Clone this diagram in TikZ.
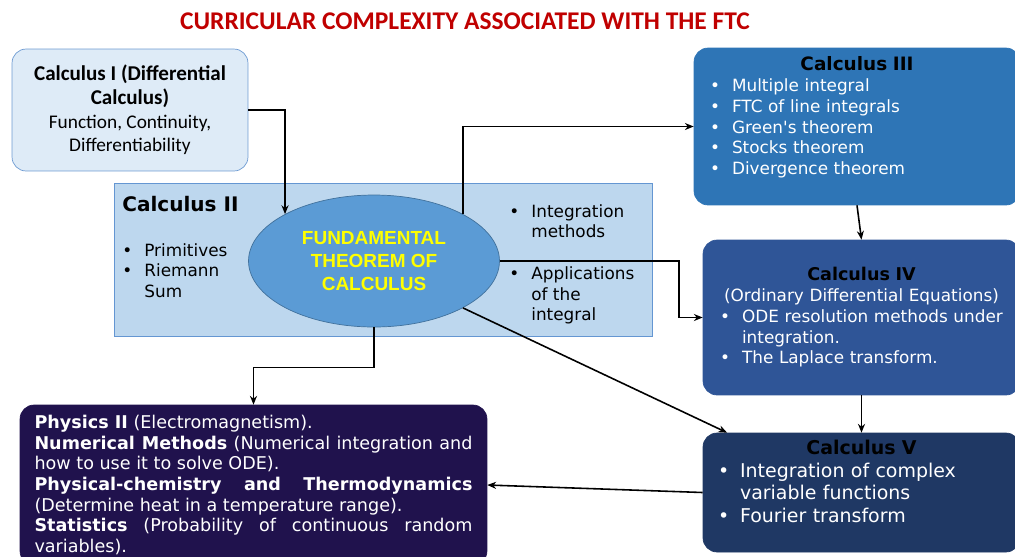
\documentclass[tikz,border=0pt]{standalone}
\usepackage{fontspec}
\setmainfont{DejaVu Sans}
\newfontfamily\calibrifont{Carlito}
\newfontfamily\arialfont{Liberation Sans}
\usetikzlibrary{shapes.geometric, arrows.meta, positioning}
\definecolor{titlered}{RGB}{192, 0, 0}
\definecolor{calcIfill}{RGB}{222, 235, 247}
\definecolor{calcIline}{RGB}{110, 155, 210}
\definecolor{calcIIfill}{RGB}{189, 215, 238}
\definecolor{calcIIline}{RGB}{100, 150, 210}
\definecolor{fundfill}{RGB}{91, 155, 213}
\definecolor{fundline}{RGB}{65, 113, 156}
\definecolor{fundtext}{RGB}{255, 255, 0}
\definecolor{calcIIIfill}{RGB}{46, 117, 182}
\definecolor{calcIVfill}{RGB}{47, 85, 151}
\definecolor{calcVfill}{RGB}{31, 56, 100}
\definecolor{physfill}{RGB}{32, 18, 77}
\newcommand{\bul}{\makebox[0.44cm][l]{\textbullet}}
\newcommand{\nobul}{\makebox[0.44cm]{}}
\newcommand{\extradepth}[1]{\rule[-#1]{0pt}{0pt}}

\begin{document}
\begin{tikzpicture}[
    x=0.02cm, y=-0.02cm,
    box/.style={rounded corners=8pt, inner sep=0pt},
    listtext/.style={align=left, inner sep=0pt, font=\fontsize{9.6}{11.8}\selectfont},
    arrow/.style={-{Stealth[length=5pt, width=4pt]}, line width=0.9pt, black}
]
    \useasboundingbox (0,0) rectangle (1015,556);

    % Title
    \node[font=\calibrifont\bfseries\fontsize{14.5}{17}\selectfont, text=titlered] (title) at (465,21) {CURRICULAR COMPLEXITY ASSOCIATED WITH THE FTC};

    % Nodes - left column
    \node[box, fill=calcIfill, draw=calcIline, minimum width=4.72cm, minimum height=2.44cm, align=center, font=\calibrifont\fontsize{11}{13.4}\selectfont] (calcI) at (130,110) {\textbf{\fontsize{12}{14.5}\selectfont Calculus I (Differential}\\\textbf{\fontsize{12}{14.5}\selectfont Calculus)}\\Function, Continuity,\\Differentiability};

    \node[draw=calcIIline, fill=calcIIfill, minimum width=10.76cm, minimum height=3.06cm, inner sep=0pt] (calcII) at (383,259.5) {};
    \node[anchor=base west, inner sep=0pt, font=\bfseries\fontsize{11.4}{13}\selectfont] (calcIItitle) at (122,211) {Calculus II};
    \node[listtext, anchor=north west] (calcIIleft) at (122,243) {\bul Primitives\\\bul Riemann\\\nobul Sum};
    \node[listtext, anchor=north west] (calcIIright) at (509,204) {\bul Integration\\\nobul methods\\[11.8pt]\bul Applications\\\nobul of the\\\nobul integral};

    \node[ellipse, draw=fundline, fill=fundfill, minimum width=5.02cm, minimum height=2.64cm, inner sep=0pt, align=center, text=fundtext, font=\arialfont\bfseries\fontsize{10.8}{13.1}\selectfont] (fund) at (374,261) {FUNDAMENTAL\\THEOREM OF\\CALCULUS};

    \node[box, fill=physfill, draw=physfill, minimum width=9.34cm, minimum height=3.2cm, text width=8.76cm, inner xsep=0.29cm, align=justify, text=white, font=\fontsize{10}{11.8}\selectfont] (physics) at (253.5,485) {\tolerance=10000 \textbf{Physics II} (Electromagnetism).\par
        \textbf{Numerical Methods} (Numerical integration and\linebreak how to use it to solve ODE).\par
        \textbf{Physical-chemistry and Thermodynamics}\linebreak (Determine heat in a temperature range).\par
        \textbf{Statistics} (Probability of continuous random\linebreak variables).};

    % Nodes - right column
    \node[box, fill=calcIIIfill, draw=calcIIIfill, minimum width=6.52cm, minimum height=3.14cm, text width=5.88cm, inner xsep=0.32cm, align=left, text=white, font=\fontsize{9.6}{11.8}\selectfont] (calcIII) at (857,126.5) {\makebox[\linewidth]{\color{black}\bfseries\fontsize{10.5}{11.8}\selectfont Calculus III}\\\bul Multiple integral\\\bul FTC of line integrals\\\bul Green\textquotesingle s theorem\\\bul Stocks theorem\\\bul Divergence theorem\extradepth{0.43cm}};

    \node[box, fill=calcIVfill, draw=calcIVfill, minimum width=6.34cm, minimum height=3.1cm, text width=5.66cm, inner xsep=0.34cm, align=left, text=white, font=\fontsize{9.6}{11.8}\selectfont] (calcIV) at (861.5,317.5) {\makebox[\linewidth]{\color{black}\bfseries\fontsize{10}{11.8}\selectfont Calculus IV}\\\makebox[\linewidth]{(Ordinary Differential Equations)}\\\bul ODE resolution methods under\\\nobul integration.\\\bul The Laplace transform.};

    \node[box, fill=calcVfill, draw=calcVfill, minimum width=6.34cm, minimum height=2.38cm, text width=5.74cm, inner xsep=0.3cm, align=left, text=white, font=\fontsize{10.8}{13}\selectfont] (calcV) at (861.5,492.5) {\makebox[\linewidth]{\color{black}\bfseries Calculus V}\\\bul Integration of complex\\\nobul variable functions\\\bul Fourier transform\extradepth{0.45cm}};

    % Arrows
    \draw[arrow] (calcI.east) -| (fund.north west);
    \draw[arrow] (fund.north east) |- (calcIII.west);
    \draw[arrow] (fund.east) -- ++(179,0) |- (calcIV.west);
    \draw[arrow] (fund.south east) -- (calcV.156);
    \draw[arrow] (fund.south) -- ++(0,40) -| (physics.north);
    \draw[arrow] (calcIII.south) -- (calcIV.north);
    \draw[arrow] (calcIV.south) -- (calcV.north);
    \draw[arrow] (calcV.west) -- (physics.east);
\end{tikzpicture}
\end{document}
